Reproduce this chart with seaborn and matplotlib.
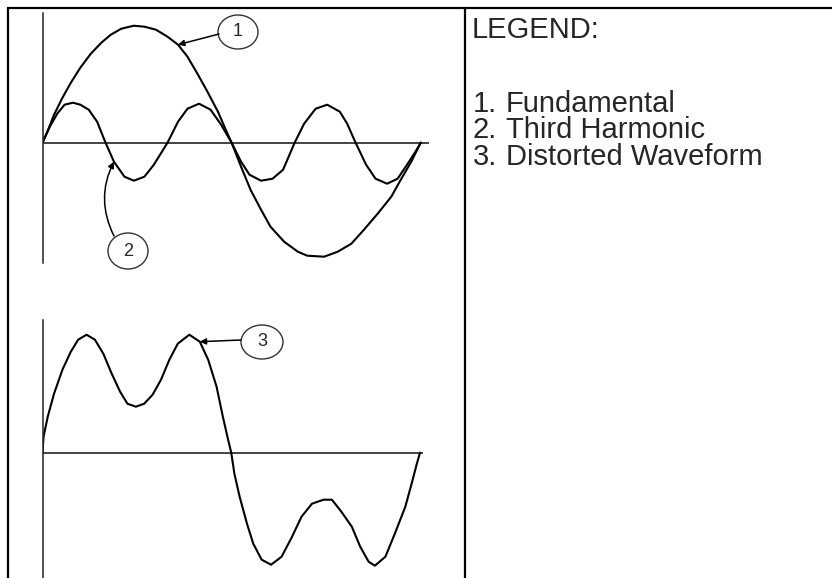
import matplotlib
matplotlib.use("Agg")
import matplotlib.pyplot as plt
import seaborn as sns
from matplotlib.patches import Ellipse

# Valores: fase em graus, amplitude em pixels acima da linha zero.
fund_phase = [0, 5, 11, 19, 27, 36, 46, 56, 65, 75, 87, 97, 108, 119, 129, 138, 148, 157, 167, 174, 180,
              189, 198, 208, 217, 230, 243, 252, 268, 281, 294, 306, 319, 332, 341, 351, 360]
fund_value = [0, 12, 28, 45, 60, 75, 89, 100, 108, 114, 117, 116, 113, 106, 98, 86, 68, 51, 31, 14, 0,
              -24, -47, -67, -84, -99, -109, -113, -114, -109, -101, -87, -71, -54, -37, -19, 0]

harm_phase = [0, 7, 14, 21, 29, 36, 44, 52, 60, 68, 78, 87, 97, 106, 119, 129, 138, 149, 160, 170,
              180, 189, 197, 208, 219, 229, 240, 249, 260, 271, 283, 290, 298, 308, 317, 328, 338, 347, 355, 360]
harm_value = [0, 16, 29, 38, 40, 38, 33, 21, 0, -19, -34, -38, -34, -22, 0, 21, 34, 39, 33, 18,
              0, -19, -32, -38, -36, -27, 0, 19, 34, 38, 31, 19, 0, -22, -36, -41, -36, -22, -9, 0]

dist_phase = [0, 1, 5, 11, 19, 27, 34, 42, 50, 58, 66, 74, 81, 89, 97, 105, 113, 121, 129, 140,
              150, 158, 166, 172, 177, 180, 183, 188, 195, 201, 209, 218, 228, 238, 247, 257, 268, 276, 285, 295,
              303, 311, 317, 327, 336, 346, 352, 357, 360]
dist_value = [0, 16, 36, 59, 83, 101, 113, 118, 113, 99, 79, 61, 49, 46, 49, 58, 73, 93, 109, 118,
              111, 93, 66, 36, 13, 0, -21, -44, -71, -91, -107, -112, -104, -84, -64, -51, -47, -47, -59, -74,
              -94, -109, -113, -104, -81, -54, -31, -11, 0]

legend_title = "LEGEND:"
legend_numbers = ["1.", "2.", "3."]
legend_items = ["Fundamental", "Third Harmonic", "Distorted Waveform"]

sns.set_style("white")
plt.rcParams["font.family"] = ["Liberation Sans", "DejaVu Sans"]

W, H = 832, 578
fig = plt.figure(figsize=(W / 100, H / 100), dpi=100)

# camada de desenho em pixels (bordas da tabela, legenda, rótulos)
over = fig.add_axes([0, 0, 1, 1])
over.set_xlim(0, W)
over.set_ylim(H, 0)
over.axis("off")


def wave_axes(left, top, bottom, right, px_per_deg, zero_y):
    ax = fig.add_axes([left / W, (H - bottom) / H, (right - left) / W, (bottom - top) / H])
    ax.set_xlim(0, (right - left) / px_per_deg)
    ax.set_ylim(-(bottom - zero_y), zero_y - top)
    ax.patch.set_alpha(0)
    for s in ["top", "right", "bottom"]:
        ax.spines[s].set_visible(False)
    ax.spines["left"].set_color("#222222")
    ax.spines["left"].set_linewidth(1.1)
    ax.set_xticks([])
    ax.set_yticks([])
    ax.axhline(0, color="#111111", lw=1.1)
    return ax


ax1 = wave_axes(42.5, 13, 263, 429, 1.0506, 142.7)
sns.lineplot(x=fund_phase, y=fund_value, ax=ax1, color="black", lw=1.5, sort=False, estimator=None)
sns.lineplot(x=harm_phase, y=harm_value, ax=ax1, color="black", lw=1.5, sort=False, estimator=None)

ax2 = wave_axes(42.5, 320, 578, 423, 1.0486, 452.7)
sns.lineplot(x=dist_phase, y=dist_value, ax=ax2, color="black", lw=1.5, sort=False, estimator=None)

# bordas da tabela
over.plot([6.5, W], [7.5, 7.5], color="black", lw=1.6, solid_capstyle="butt")
over.plot([7.5, 7.5], [6.5, H], color="black", lw=1.6, solid_capstyle="butt")
over.plot([465, 465], [6.5, H], color="black", lw=1.6, solid_capstyle="butt")

# legenda
over.text(472, 38, legend_title, fontsize=21, va="baseline", ha="left")
for i, (num, item) in enumerate(zip(legend_numbers, legend_items)):
    y = 112 + i * 26.5
    over.text(473, y, num, fontsize=21, va="baseline", ha="left")
    over.text(506, y, item, fontsize=21, va="baseline", ha="left")

# rótulos circulares com setas
arrow = dict(arrowstyle="-|>", color="black", lw=1.1, mutation_scale=9, shrinkA=0, shrinkB=0)
labels = [
    ("1", (238, 32), (40, 34), ax1, (fund_phase[14], fund_value[14]), (219, 34), "arc3,rad=0"),
    ("2", (128, 251), (40, 36), ax1, (harm_phase[9], harm_value[9]), (114, 236), "arc3,rad=-0.25"),
    ("3", (262, 342), (42, 34), ax2, (dist_phase[20], dist_value[20]), (241, 340), "arc3,rad=0"),
]
for txt, (cx, cy), (w, h), ax, xy, start, conn in labels:
    over.add_patch(Ellipse((cx, cy), w, h, fill=False, edgecolor="#333333", lw=1.0))
    over.text(cx, cy, txt, fontsize=13, ha="center", va="center")
    ax.annotate("", xy=xy, xycoords="data", xytext=(start[0], H - start[1]),
                textcoords="figure pixels", arrowprops=dict(arrow, connectionstyle=conn))

fig.savefig("out.png", dpi=100)
plt.close(fig)
